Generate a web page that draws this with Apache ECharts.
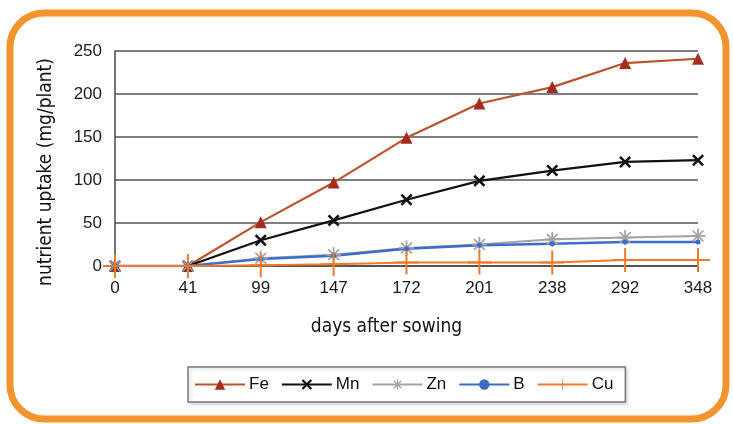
<!DOCTYPE html>
<html lang="en">
<head>
    <meta charset="UTF-8">
    <title>nutrient uptake</title>
    <script src="https://cdn.jsdelivr.net/npm/echarts@6/dist/echarts.min.js"></script>
    <style>
        body { margin: 0; background: #fff; }
    </style>
</head>
<body>
<div id="echarts" style="width: 733px;height:424px"></div>
<script>
    var chartDom = document.getElementById('echarts');
    var myChart = echarts.init(chartDom);
    var option;

    // days after sowing
    var days = ['0', '41', '99', '147', '172', '201', '238', '292', '348'];
    var fe = [0, 0, 51, 97, 149, 189, 208, 236, 241];
    var mn = [0, 0, 30, 53, 77, 99, 111, 121, 123];
    var zn = [0, 0, 9, 13, 21, 25, 31, 33, 35];
    var b = [0, 0, 8, 12, 20, 24, 26, 28, 28];
    var cu = [0, 0, 1, 2, 4, 4, 4, 7, 7];
    var yTicks = [0, 50, 100, 150, 200, 250];

    var xMark = 'path://M0,1.5 L1.5,0 L10,8.5 L8.5,10 Z M8.5,0 L10,1.5 L1.5,10 L0,8.5 Z';
    var starMark = 'path://M4.4,0 h1.2 v10 h-1.2 z M0,4.4 h10 v1.2 h-10 z ' +
        'M1.0,1.8 L1.8,1.0 L9,8.2 L8.2,9 Z M8.2,1.0 L9,1.8 L1.8,9 L1.0,8.2 Z';
    // tall plus, square bounds so the legend keeps it thin
    var cuMark = 'path://M5.5,0 h1 v12 h-1 z M0,5.5 h12 v1 h-12 z';

    var font = 'Liberation Sans';
    var nameFont = 'DejaVu Sans Condensed';

    option = {
        backgroundColor: '#ffffff',
        animation: false,
        graphic: [{
            type: 'rect',
            shape: { x: 10, y: 13, width: 716, height: 406, r: 34 },
            style: { fill: 'none', stroke: '#f3952c', lineWidth: 7 },
            z: 100
        }],
        legend: {
            left: 188,
            top: 367,
            padding: [9, 12, 9, 6],
            borderColor: '#777',
            borderWidth: 1.5,
            shadowColor: 'rgba(0,0,0,0.15)',
            shadowBlur: 3,
            shadowOffsetX: 2,
            shadowOffsetY: 2,
            backgroundColor: '#fff',
            itemWidth: 50,
            itemHeight: 13,
            itemGap: 12,
            textStyle: { fontFamily: font, fontSize: 17, color: '#111', padding: [0, 0, 0, -1] },
            data: ['Fe', 'Mn', 'Zn', 'B', 'Cu']
        },
        grid: {
            left: 115,
            right: 35,
            top: 51,
            bottom: 158
        },
        xAxis: {
            type: 'category',
            boundaryGap: false,
            data: days,
            name: 'days after sowing',
            nameLocation: 'middle',
            nameGap: 52,
            nameTextStyle: { fontFamily: nameFont, fontSize: 19, color: '#111', padding: [0, 40, 0, 0] },
            axisLine: { lineStyle: { color: '#444', width: 1.5 } },
            axisTick: { show: false },
            axisLabel: { fontFamily: font, fontSize: 17, color: '#1a1a1a', margin: 14 },
            splitLine: { show: false }
        },
        yAxis: {
            type: 'value',
            min: 0,
            max: 250,
            interval: 50,
            name: 'nutrient uptake (mg/plant)',
            nameLocation: 'middle',
            nameGap: 59,
            nameTextStyle: { fontFamily: nameFont, fontSize: 19, color: '#111', padding: [0, 0, 0, -27] },
            axisLine: { show: true, lineStyle: { color: '#444', width: 1.5 } },
            axisTick: { show: false },
            axisLabel: {
                fontFamily: font, fontSize: 17, color: '#1a1a1a', margin: 13,
                formatter: function (v) { return yTicks.indexOf(v) >= 0 ? String(v) : ''; }
            },
            splitLine: { lineStyle: { color: '#555', width: 1.5 } }
        },
        series: [{
            name: 'Fe',
            type: 'line',
            data: fe,
            symbol: 'triangle',
            symbolSize: 12,
            itemStyle: { color: '#a52c1e' },
            lineStyle: { color: '#b8552e', width: 2.2 }
        }, {
            name: 'Mn',
            type: 'line',
            data: mn,
            symbol: xMark,
            symbolSize: 12,
            itemStyle: { color: '#111' },
            lineStyle: { color: '#111', width: 2.2 }
        }, {
            name: 'Zn',
            type: 'line',
            data: zn,
            symbol: starMark,
            symbolSize: 15,
            itemStyle: { color: '#a3a3a3' },
            lineStyle: { color: '#a3a3a3', width: 2 }
        }, {
            name: 'B',
            type: 'line',
            data: b,
            symbol: 'circle',
            symbolSize: 5,
            itemStyle: { color: '#3a6cc8' },
            lineStyle: { color: '#3a6cc8', width: 2.5 }
        }, {
            name: 'Cu',
            type: 'line',
            data: cu,
            symbol: cuMark,
            symbolSize: 24,
            itemStyle: { color: '#f07a2a' },
            lineStyle: { color: '#f07a2a', width: 2 }
        }]
    };

    option && myChart.setOption(option);
</script>
</body>
</html>
